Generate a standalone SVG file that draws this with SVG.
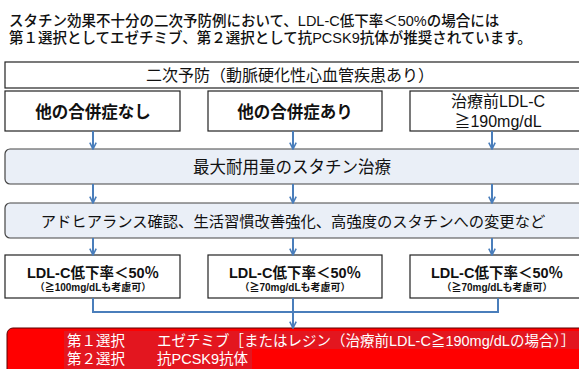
<svg xmlns="http://www.w3.org/2000/svg" width="579" height="369" viewBox="0 0 579 369">
<defs>
<style>
text{font-family:"Liberation Sans","Noto Sans CJK JP",sans-serif;fill:#111;}
.title{font-size:14.5px;font-weight:500;}
.c{text-anchor:middle;}
.box{fill:#fff;stroke:#222;stroke-width:1.2;}
.rbox{fill:#eaeff7;stroke:#444;stroke-width:1.2;}
.b{font-weight:bold;}
.conn{fill:none;stroke:#4a7ebb;stroke-width:2;}
.w{fill:#fff;font-size:14.5px;}
</style>
<marker id="ah" viewBox="0 0 10 10" refX="9" refY="5" markerWidth="8" markerHeight="8" markerUnits="userSpaceOnUse" orient="auto">
<path d="M1,1 L9,5 L1,9" fill="none" stroke="#4a7ebb" stroke-width="2"/>
</marker>
</defs>
<rect width="579" height="369" fill="#fff"/>
<g id="title">
<text class="title" x="9" y="26">スタチン効果不十分の二次予防例において、LDL-C低下率＜50%の場合には</text>
<text class="title" x="9" y="43">第１選択としてエゼチミブ、第２選択として抗PCSK9抗体が推奨されています。</text>
</g>
<g id="secondary">
<rect class="box" x="5" y="62" width="590" height="26"/>
<text class="c" x="290" y="81" font-size="16">二次予防（動脈硬化性心血管疾患あり）</text>
</g>
<g id="no-comorb">
<rect class="box" x="5" y="91" width="175" height="40"/>
<text class="c b" x="93" y="117.5" font-size="16.5">他の合併症なし</text>
</g>
<g id="comorb">
<rect class="box" x="208" y="91" width="174" height="40"/>
<text class="c b" x="295" y="117.5" font-size="16.5">他の合併症あり</text>
</g>
<g id="ldl190">
<rect class="box" x="410" y="91" width="180" height="40"/>
<text class="c" x="498" y="107" font-size="16">治療前LDL-C</text>
<text class="c" x="498" y="127" font-size="16">≧190mg/dL</text>
</g>
<g id="max-statin">
<rect class="rbox" x="5" y="149" width="590" height="35" rx="5"/>
<text class="c" x="292" y="173" font-size="16.5">最大耐用量のスタチン治療</text>
</g>
<g id="adherence">
<rect class="rbox" x="5" y="203" width="590" height="35" rx="5"/>
<text class="c" x="293" y="227" font-size="15.3">アドヒアランス確認、生活習慣改善強化、高強度のスタチンへの変更など</text>
</g>
<g id="res1">
<rect class="box" x="5" y="255" width="175" height="43"/>
<text class="c b" x="93" y="278" font-size="14.5">LDL-C低下率＜50％</text>
<text class="c b" x="93" y="291" font-size="10">（≧100mg/dLも考慮可）</text>
</g>
<g id="res2">
<rect class="box" x="208" y="255" width="174" height="43"/>
<text class="c b" x="295" y="278" font-size="14.5">LDL-C低下率＜50％</text>
<text class="c b" x="295" y="291" font-size="10">（≧70mg/dLも考慮可）</text>
</g>
<g id="res3">
<rect class="box" x="410" y="255" width="180" height="43"/>
<text class="c b" x="497" y="278" font-size="14.5">LDL-C低下率＜50％</text>
<text class="c b" x="497" y="291" font-size="10">（≧70mg/dLも考慮可）</text>
</g>
<g id="recommend">
<rect x="7" y="328" width="600" height="60" rx="6" fill="#ff0000" stroke="#5a0000" stroke-width="1"/>
<rect x="64" y="331" width="520" height="18" fill="#e3161f"/>
<rect x="64" y="349" width="188" height="20" fill="#e3161f"/>
<text class="w" x="67" y="346">第１選択</text>
<text class="w" x="157" y="346" font-size="14.8">エゼチミブ［またはレジン（治療前LDL-C≧190mg/dLの場合）］</text>
<text class="w" x="67" y="364">第２選択</text>
<text class="w" x="157" y="364">抗PCSK9抗体</text>
</g>
<g id="connectors">
<line class="conn" x1="93" y1="131" x2="93" y2="149" marker-end="url(#ah)"/>
<line class="conn" x1="293" y1="131" x2="293" y2="149" marker-end="url(#ah)"/>
<line class="conn" x1="492" y1="131" x2="492" y2="149" marker-end="url(#ah)"/>
<line class="conn" x1="93" y1="184" x2="93" y2="203" marker-end="url(#ah)"/>
<line class="conn" x1="293" y1="184" x2="293" y2="203" marker-end="url(#ah)"/>
<line class="conn" x1="492" y1="184" x2="492" y2="203" marker-end="url(#ah)"/>
<line class="conn" x1="93" y1="238" x2="93" y2="255" marker-end="url(#ah)"/>
<line class="conn" x1="293" y1="238" x2="293" y2="255" marker-end="url(#ah)"/>
<line class="conn" x1="492" y1="238" x2="492" y2="255" marker-end="url(#ah)"/>
<path class="conn" d="M93,298 V312 H498 V298"/>
<line class="conn" x1="293" y1="298" x2="293" y2="328" marker-end="url(#ah)"/>
</g>
</svg>
